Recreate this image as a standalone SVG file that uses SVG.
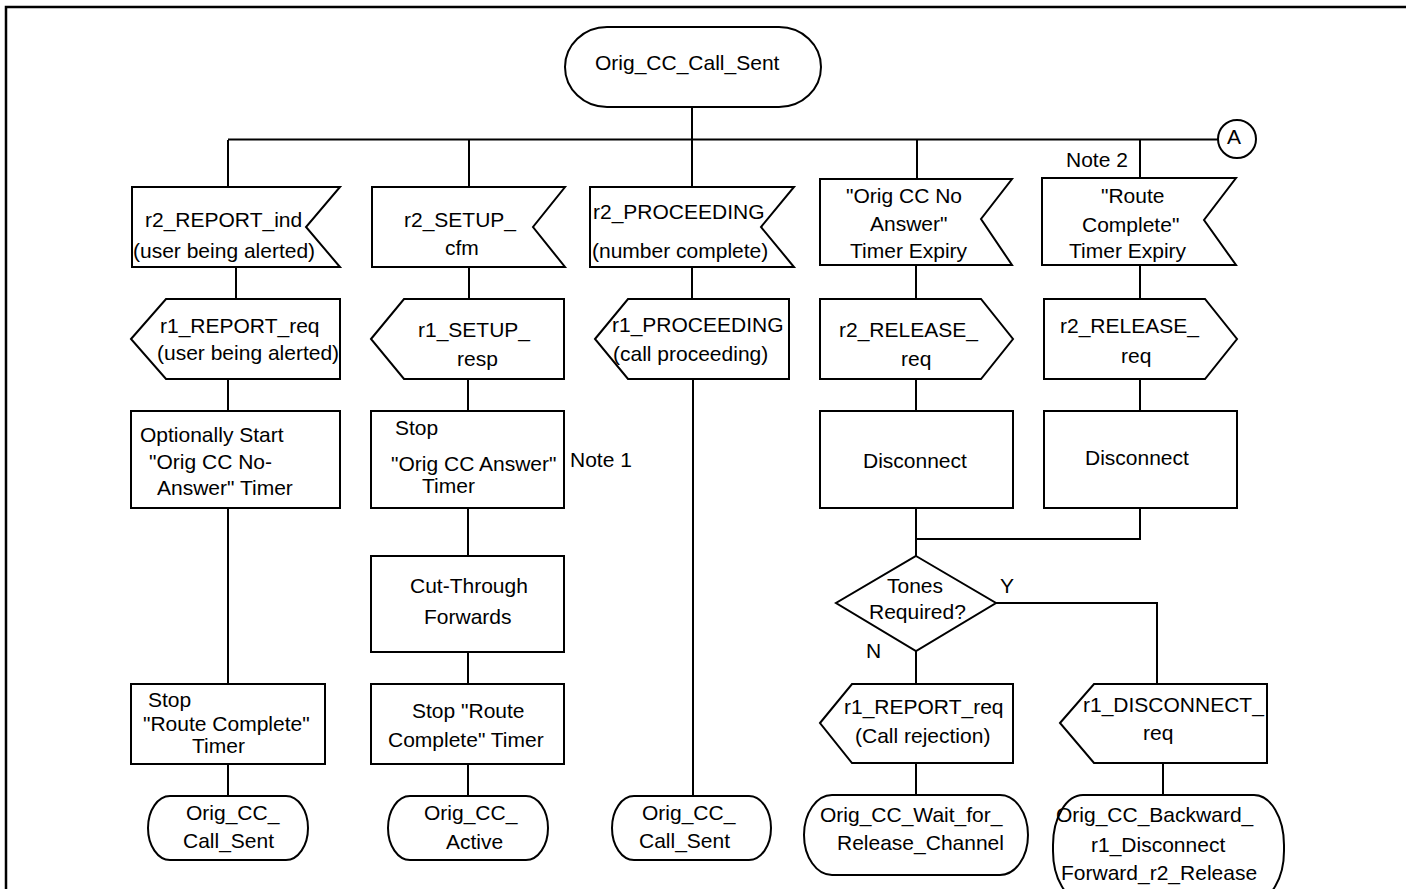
<svg xmlns="http://www.w3.org/2000/svg" width="1406" height="889" viewBox="0 0 1406 889">
<style>
.s{fill:#fff;stroke:#000;stroke-width:2}
.c{fill:none;stroke:#000;stroke-width:2}
text{font-family:"Liberation Sans",Arial,sans-serif;font-size:21px;fill:#000}
</style>
<rect x="0" y="0" width="1406" height="889" fill="#fff"/>
<rect x="6" y="7" width="1420" height="900" fill="none" stroke="#000" stroke-width="2.5"/>
<g id="connectors">
<path class="c" d="M692,107V140M228,139.5H1218"/>
<path class="c" d="M228,140V187M236,267V299M228,379V411M228,508V684M228,764V796"/>
<path class="c" d="M469,140V187M469,267V299M468,379V411M468,508V556M468,652V684M468,764V796"/>
<path class="c" d="M692,140V187M692,267V299M693,379V796"/>
<path class="c" d="M917,140V179M916,265V299M916,379V411M916,508V556"/>
<path class="c" d="M1140,140V178M1140,265V299M1140,379V411M1140,508V539H916"/>
<path class="c" d="M996,603H1157V684M916,651V684M916,763V795M1163,763V795"/>
</g>
<g id="start"><rect class="s" x="565" y="27" width="256" height="80" rx="42" ry="40"/><text x="595" y="70">Orig_CC_Call_Sent</text></g>
<g id="connA"><circle class="s" cx="1237" cy="139" r="19"/><text x="1227" y="144">A</text></g>
<g id="in1"><polygon class="s" points="132,187 340,187 306,227 340,267 132,267"/><text x="145" y="227">r2_REPORT_ind</text><text x="133" y="258">(user being alerted)</text></g>
<g id="in2"><polygon class="s" points="372,187 565,187 533,227 565,267 372,267"/><text x="404" y="227">r2_SETUP_</text><text x="445" y="255">cfm</text></g>
<g id="in3"><polygon class="s" points="590,187 794,187 761,227 794,267 590,267"/><text x="593" y="219">r2_PROCEEDING</text><text x="592" y="258">(number complete)</text></g>
<g id="in4"><polygon class="s" points="820,179 1012,179 981,219 1012,265 820,265"/><text x="846" y="203">"Orig CC No</text><text x="870" y="231">Answer"</text><text x="850" y="258">Timer Expiry</text></g>
<g id="note2"><text x="1066" y="167">Note 2</text></g>
<g id="in5"><polygon class="s" points="1042,178 1236,178 1204,220 1236,265 1042,265"/><text x="1101" y="203">"Route</text><text x="1082" y="232">Complete"</text><text x="1069" y="258">Timer Expiry</text></g>
<g id="out1"><polygon class="s" points="131,339 166,299 340,299 340,379 166,379"/><text x="160" y="333">r1_REPORT_req</text><text x="157" y="360">(user being alerted)</text></g>
<g id="out2"><polygon class="s" points="371,339 404,299 564,299 564,379 404,379"/><text x="418" y="337">r1_SETUP_</text><text x="457" y="366">resp</text></g>
<g id="out3"><polygon class="s" points="595,339 628,299 789,299 789,379 628,379"/><text x="612" y="332">r1_PROCEEDING</text><text x="613" y="361">(call proceeding)</text></g>
<g id="send4"><polygon class="s" points="820,299 981,299 1013,339 981,379 820,379"/><text x="839" y="337">r2_RELEASE_</text><text x="901" y="366">req</text></g>
<g id="send5"><polygon class="s" points="1044,299 1205,299 1237,339 1205,379 1044,379"/><text x="1060" y="333">r2_RELEASE_</text><text x="1121" y="363">req</text></g>
<g id="task1"><rect class="s" x="131" y="411" width="209" height="97"/><text x="140" y="442">Optionally Start</text><text x="149" y="469">"Orig CC No-</text><text x="157" y="495">Answer" Timer</text></g>
<g id="task2"><rect class="s" x="371" y="411" width="193" height="97"/><text x="395" y="435">Stop</text><text x="391" y="471">"Orig CC Answer"</text><text x="422" y="493">Timer</text></g>
<g id="note1"><text x="570" y="467">Note 1</text></g>
<g id="disc4"><rect class="s" x="820" y="411" width="193" height="97"/><text x="863" y="468">Disconnect</text></g>
<g id="disc5"><rect class="s" x="1044" y="411" width="193" height="97"/><text x="1085" y="465">Disconnect</text></g>
<g id="cut"><rect class="s" x="371" y="556" width="193" height="96"/><text x="410" y="593">Cut-Through</text><text x="424" y="624">Forwards</text></g>
<g id="dec"><polygon class="s" points="916,556 996,603 916,651 836,603"/><text x="887" y="593">Tones</text><text x="869" y="619">Required?</text><text x="1000" y="593">Y</text><text x="866" y="658">N</text></g>
<g id="stop1"><rect class="s" x="131" y="684" width="194" height="80"/><text x="148" y="707">Stop</text><text x="143" y="731">"Route Complete"</text><text x="192" y="753">Timer</text></g>
<g id="stop2"><rect class="s" x="371" y="684" width="193" height="80"/><text x="412" y="718">Stop "Route</text><text x="388" y="747">Complete" Timer</text></g>
<g id="rep4"><polygon class="s" points="820,723 852,684 1013,684 1013,763 852,763"/><text x="844" y="714">r1_REPORT_req</text><text x="855" y="743">(Call rejection)</text></g>
<g id="disc5out"><polygon class="s" points="1060,723 1094,684 1267,684 1267,763 1094,763"/><text x="1083" y="712">r1_DISCONNECT_</text><text x="1143" y="740">req</text></g>
<g id="end1"><rect class="s" x="148" y="796" width="160" height="64" rx="22" ry="32"/><text x="186" y="820">Orig_CC_</text><text x="183" y="848">Call_Sent</text></g>
<g id="end2"><rect class="s" x="388" y="796" width="160" height="64" rx="22" ry="32"/><text x="424" y="820">Orig_CC_</text><text x="446" y="849">Active</text></g>
<g id="end3"><rect class="s" x="612" y="796" width="159" height="64" rx="22" ry="32"/><text x="642" y="820">Orig_CC_</text><text x="639" y="848">Call_Sent</text></g>
<g id="end4"><rect class="s" x="804" y="795" width="224" height="80" rx="28" ry="40"/><text x="820" y="822">Orig_CC_Wait_for_</text><text x="837" y="850">Release_Channel</text></g>
<g id="end5"><rect class="s" x="1053" y="795" width="231" height="106" rx="30" ry="50"/><text x="1056" y="822">Orig_CC_Backward_</text><text x="1091" y="852">r1_Disconnect</text><text x="1061" y="880">Forward_r2_Release</text></g>
</svg>
